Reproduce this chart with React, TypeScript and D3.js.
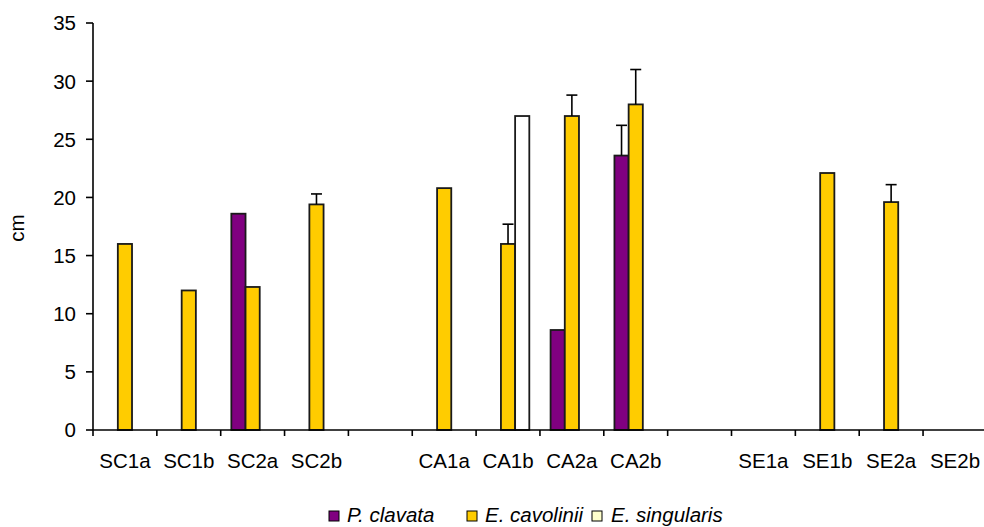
import React from "react";
import * as d3 from "d3";

const categories = ["SC1a", "SC1b", "SC2a", "SC2b", "", "CA1a", "CA1b", "CA2a", "CA2b", "", "SE1a", "SE1b", "SE2a", "SE2b"];
const seriesNames = ["P. clavata", "E. cavolinii", "E. singularis"];
const pClavata = [null, null, 18.6, null, null, null, null, 8.6, 23.6, null, null, null, null, null];
const eCavolinii = [16.0, 12.0, 12.3, 19.4, null, 20.8, 16.0, 27.0, 28.0, null, null, 22.1, 19.6, null];
const eSingularis = [null, null, null, null, null, null, 27.0, null, null, null, null, null, null, null];
const pClavataErr = [null, null, null, null, null, null, null, null, 2.6, null, null, null, null, null];
const eCavoliniiErr = [null, null, null, 0.9, null, null, 1.7, 1.8, 3.0, null, null, null, 1.5, null];
const eSingularisErr = [null, null, null, null, null, null, null, null, null, null, null, null, null, null];
const yTicks = [0, 5, 10, 15, 20, 25, 30, 35];
const barColors = ["#800080", "#FFCC00", "#FFFFFF"];
const legendColors = ["#800080", "#FFCC00", "#FFFFCC"];

export default function App() {
  const W = 984, H = 527;
  const x0 = 93, x1 = 986.9, yBottom = 430, yTop = 23;
  const font = "'Liberation Sans', Arial, sans-serif";
  const fs = 20.5;

  const x = d3.scaleBand<number>().domain(d3.range(categories.length)).range([x0, x1]).paddingInner(0).paddingOuter(0);
  const y = d3.scaleLinear().domain([0, 35]).range([yBottom, yTop]);
  const bw = x.bandwidth();
  const barW = bw / 4.5;
  const xs = d3.scaleBand<number>().domain([0, 1, 2]).range([-1.5 * barW, 1.5 * barW]);

  const values = [pClavata, eCavolinii, eSingularis];
  const errs = [pClavataErr, eCavoliniiErr, eSingularisErr];

  const bars: any[] = [];
  const errBars: any[] = [];
  values.forEach((arr, s) => {
    arr.forEach((v, i) => {
      if (v == null) return;
      const cx = (x(i) as number) + bw / 2;
      const bx = cx + (xs(s) as number);
      bars.push(
        <rect key={`b${s}-${i}`} x={bx} y={y(v)} width={xs.bandwidth()} height={y(0) - y(v)}
          fill={barColors[s]} stroke="#1a1a1a" strokeWidth={1.8} />
      );
      const e = errs[s][i];
      if (e != null) {
        const mx = bx + xs.bandwidth() / 2;
        errBars.push(
          <g key={`e${s}-${i}`} stroke="#000" strokeWidth={1.6}>
            <line x1={mx} x2={mx} y1={y(v)} y2={y(v + e)} />
            <line x1={mx - 5.5} x2={mx + 5.5} y1={y(v + e)} y2={y(v + e)} />
          </g>
        );
      }
    });
  });

  const legendItems = [
    { sx: 329, tx: 347 },
    { sx: 467, tx: 485 },
    { sx: 592, tx: 611 },
  ];

  return (
    <svg width={W} height={H} style={{ position: "absolute", left: 0, top: 0, background: "#fff" }}>
      {bars}
      {errBars}
      {/* y axis */}
      <line x1={x0} x2={x0} y1={yTop} y2={yBottom} stroke="#000" strokeWidth={1.6} />
      {yTicks.map((t) => (
        <g key={`yt${t}`}>
          <line x1={x0 - 7} x2={x0} y1={y(t)} y2={y(t)} stroke="#000" strokeWidth={1.6} />
          <text x={76} y={y(t)} dy="0.36em" textAnchor="end" fontFamily={font} fontSize={fs} fill="#000">{t}</text>
        </g>
      ))}
      {/* x axis */}
      <line x1={x0} x2={x1} y1={yBottom} y2={yBottom} stroke="#000" strokeWidth={1.6} />
      {d3.range(categories.length).map((i) => (
        <line key={`xt${i}`} x1={x(i) as number} x2={x(i) as number} y1={yBottom} y2={yBottom + 6} stroke="#000" strokeWidth={1.6} />
      ))}
      {categories.map((c, i) => (
        <text key={`xl${i}`} x={(x(i) as number) + bw / 2} y={468} textAnchor="middle" fontFamily={font} fontSize={fs} fill="#000">{c}</text>
      ))}
      <text transform={`translate(24,228) rotate(-90)`} textAnchor="middle" fontFamily={font} fontSize={fs} fill="#000">cm</text>
      {seriesNames.map((n, s) => (
        <g key={`lg${s}`}>
          <rect x={legendItems[s].sx} y={511} width={10} height={10} fill={legendColors[s]} stroke="#000" strokeWidth={1} />
          <text x={legendItems[s].tx} y={522} fontFamily={font} fontSize={20.5} fontStyle="italic" fill="#000">{n}</text>
        </g>
      ))}
    </svg>
  );
}
